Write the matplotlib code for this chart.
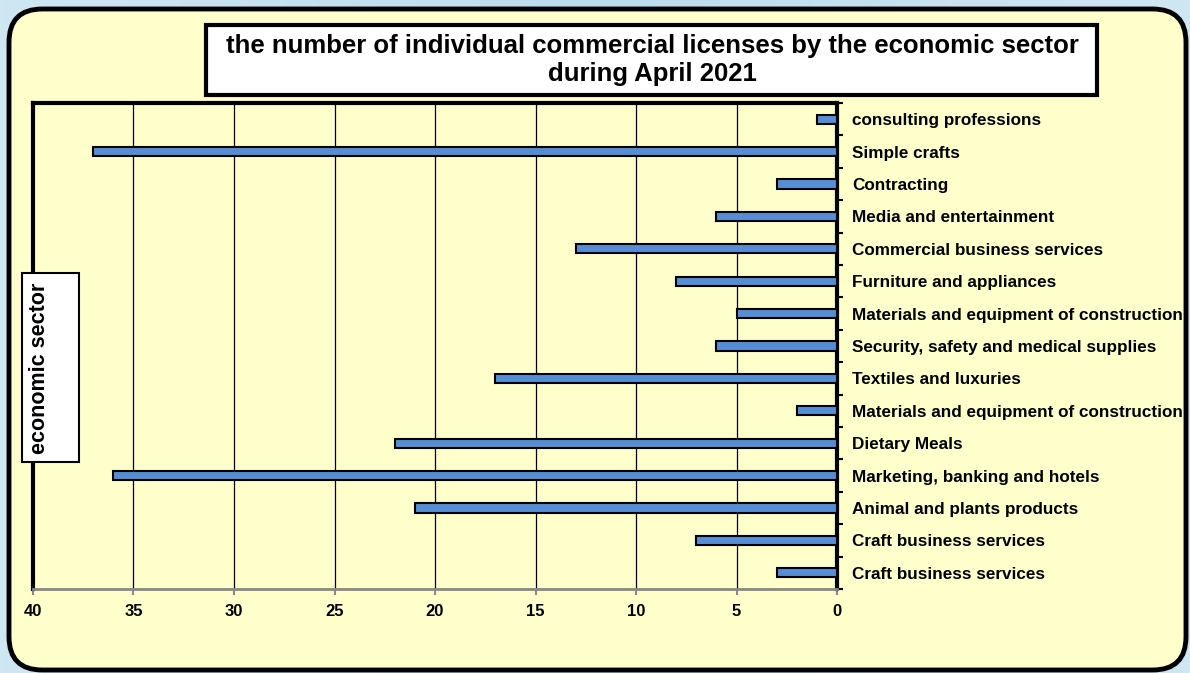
import matplotlib.pyplot as plt
import numpy as np
from matplotlib.patches import FancyBboxPatch, Rectangle

plt.rcParams['font.family'] = ['Liberation Sans', 'DejaVu Sans']

sectors = ['consulting professions', 'Simple crafts', 'Contracting',
           'Media and entertainment', 'Commercial business services',
           'Furniture and appliances', 'Materials and equipment of construction',
           'Security, safety and medical supplies', 'Textiles and luxuries',
           'Materials and equipment of construction', 'Dietary Meals',
           'Marketing, banking and hotels', 'Animal and plants products',
           'Craft business services', 'Craft business services']
licenses = [1, 37, 3, 6, 13, 8, 5, 6, 17, 2, 22, 36, 21, 7, 3]
xticks = [40, 35, 30, 25, 20, 15, 10, 5, 0]

W, H = 1190, 673
fig = plt.figure(figsize=(W / 100, H / 100), dpi=100)

def fx(px):
    return px / W

def fy(py):
    return 1 - py / H

# light blue background with a soft gradient
bg = fig.add_axes([0, 0, 1, 1], zorder=-10)
grad = np.linspace(0, 1, 256).reshape(1, -1)
bg.imshow(grad, extent=[0, 1, 0, 1], aspect='auto',
          cmap=plt.matplotlib.colors.LinearSegmentedColormap.from_list(
              'bgc', ['#cfe6f3', '#bcdcef', '#cfe6f3']))
bg.set_xlim(0, 1)
bg.set_ylim(0, 1)
bg.axis('off')

# rounded yellow panel
panel = FancyBboxPatch((fx(9), fy(670)), fx(1177), 661 / H,
                       boxstyle='round,pad=0,rounding_size=0.028',
                       transform=fig.transFigure, facecolor='#ffffcc',
                       edgecolor='black', linewidth=3.5, zorder=-5,
                       mutation_aspect=W / H)
fig.patches.append(panel)

ax = fig.add_axes([fx(33), fy(589), fx(837 - 33), (589 - 103) / H])
ax.set_facecolor('#ffffcc')
y = np.arange(len(sectors))
ax.barh(y, licenses, height=0.28, color='#558ed5', edgecolor='black',
        linewidth=1.5, zorder=3)
ax.set_xlim(40, 0)
ax.set_ylim(len(sectors) - 0.5, -0.5)
ax.set_xticks(xticks)
ax.set_xticklabels([str(t) for t in xticks], fontsize=12, fontweight='bold')
ax.grid(axis='x', color='black', linewidth=0.9, zorder=1)

ax.yaxis.tick_right()
ax.set_yticks(y)
ax.set_yticklabels(sectors, fontsize=12.3, fontweight='bold')
ax.tick_params(axis='y', which='major', length=0, pad=11)
ax.set_yticks(np.arange(-0.5, len(sectors), 1), minor=True)
ax.tick_params(axis='y', which='minor', length=4, width=1.5, direction='out',
               right=True, left=False)
ax.tick_params(axis='x', length=4, width=1.5, color='#888888', pad=7)

for side in ['left', 'top', 'right']:
    ax.spines[side].set_linewidth(3)
    ax.spines[side].set_color('black')
ax.spines['bottom'].set_linewidth(2)
ax.spines['bottom'].set_color('#888888')

# title box
fig.patches.append(Rectangle((fx(206), fy(95)), fx(1097 - 206), 70 / H,
                             transform=fig.transFigure, facecolor='white',
                             edgecolor='black', linewidth=3, zorder=5))
fig.text(fx(652), fy(60),
         'the number of individual commercial licenses by the economic sector\nduring April 2021',
         ha='center', va='center', fontsize=18.5, fontweight='bold', linespacing=1.22,
         zorder=6)

# y label box
fig.patches.append(Rectangle((fx(22), fy(462)), fx(57), (462 - 273) / H,
                             transform=fig.transFigure, facecolor='white',
                             edgecolor='black', linewidth=1.5, zorder=5))
fig.text(fx(40), fy(368), 'economic sector', rotation=90,
         ha='center', va='center', fontsize=15.5, fontweight='bold', zorder=6)

fig.savefig('out.png', dpi=100)
